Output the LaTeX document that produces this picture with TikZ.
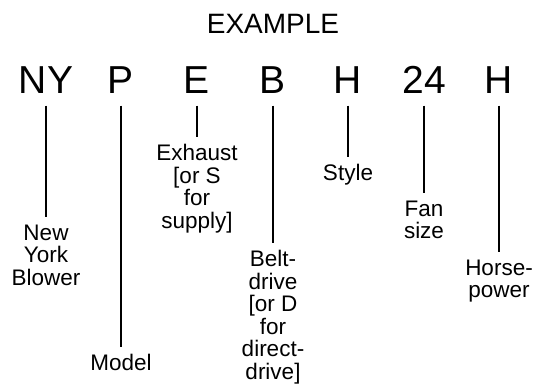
\documentclass[tikz,border=0pt]{standalone}
\usepackage{fontspec}
\setmainfont{Liberation Sans}
\begin{document}
\begin{tikzpicture}[x = 1pt, y = -1pt, line width = 1.2pt,
  code/.style = {anchor = base, inner xsep = 0pt, inner ysep = 12pt, text depth = 0pt, font = \fontsize{39}{39}\selectfont},
  meaning/.style = {anchor = north, inner xsep = 0pt, inner ysep = 7pt, align = center, font = \fontsize{22.5}{22.5}\selectfont}]

  \useasboundingbox (0, 0) rectangle (537, 391);

  % Heading
  \node[anchor = base, font = \fontsize{28}{28}\selectfont] (title) at (273, 33) {EXAMPLE};

  % Code letters
  \node[code] (ny) at (46, 93) {NY};
  \node[code] (p) at (121, 93) {P};
  \node[code] (e) at (197, 93) {E};
  \node[code] (b) at (273, 93) {B};
  \node[code] (h1) at (348, 93) {H};
  \node[code] (n24) at (424, 93) {24};
  \node[code] (h2) at (499, 93) {H};

  % Meanings
  \node[meaning] (newyork) at (46, 217) {New\\York\\Blower};
  \node[meaning] (model) at (121, 347) {Model};
  \node[meaning] (exhaust) at (197, 137) {Exhaust\\{[}or S\\for\\supply]};
  \node[meaning] (belt) at (273, 243) {Belt-\\drive\\{[}or D\\for\\direct-\\drive]};
  \node[meaning] (style) at (348, 157) {Style};
  \node[meaning] (fansize) at (424, 193) {Fan\\size};
  \node[meaning] (horsepower) at (499, 252) {Horse-\\power};

  % Lines
  \draw (ny.south) -- (newyork.north);
  \draw (p.south) -- (model.north);
  \draw (e.south) -- (exhaust.north);
  \draw (b.south) -- (belt.north);
  \draw (h1.south) -- (style.north);
  \draw (n24.south) -- (fansize.north);
  \draw (h2.south) -- (horsepower.north);

\end{tikzpicture}
\end{document}
